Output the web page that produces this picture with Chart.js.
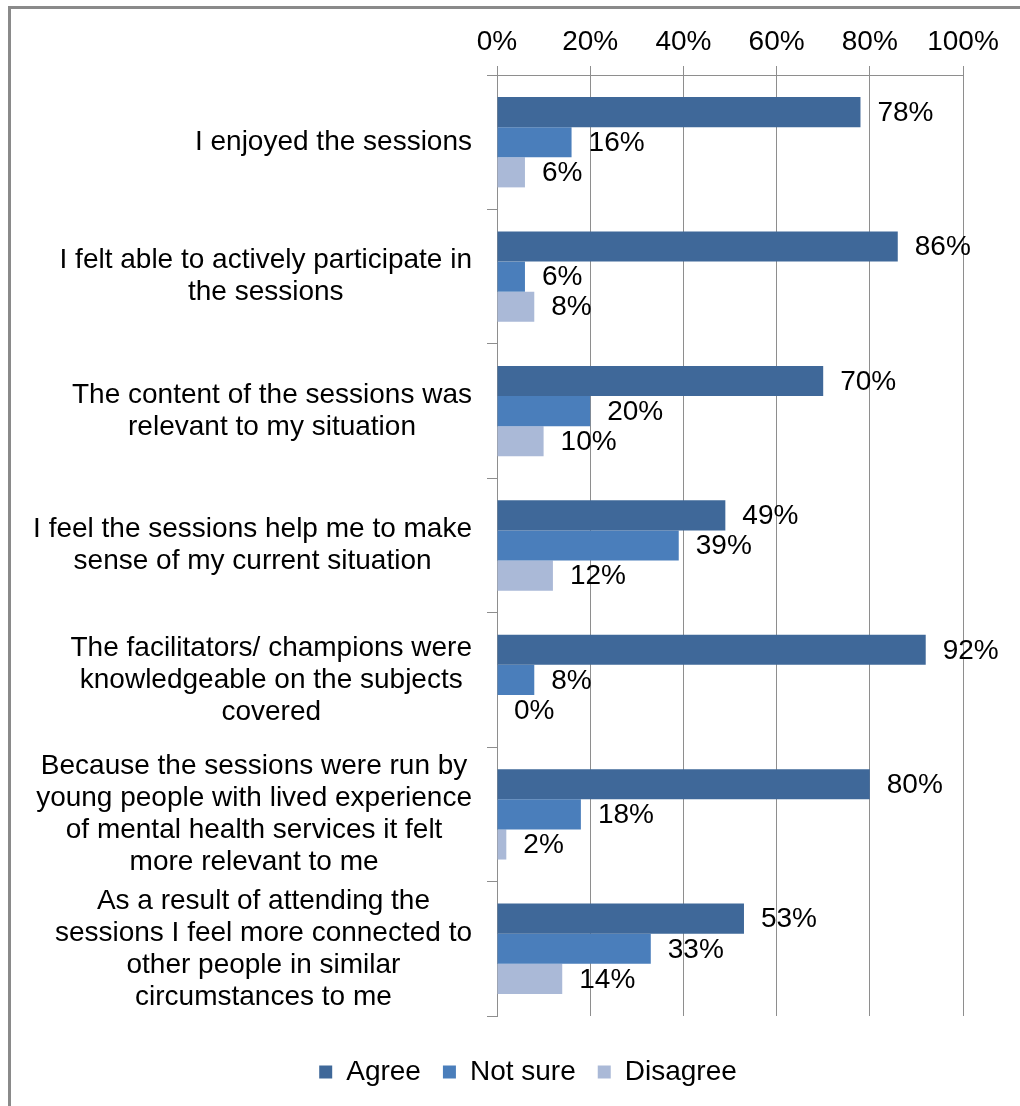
<!DOCTYPE html>
<html lang="en">
<head>
    <meta charset="UTF-8">
    <title>Session feedback</title>
    <script src="https://cdn.jsdelivr.net/npm/chart.js"></script>
    <style>
        html, body { margin: 0; padding: 0; background: #fff; overflow: hidden; }
        #frame { position: absolute; left: 8px; top: 6px; width: 1100px; height: 1200px; border: 3px solid #8a8a8a; }
        #chart { position: absolute; left: 0; top: 0; }
    </style>
</head>
<body>
    <div id="frame"></div>
    <canvas id="chart" width="1020" height="1106"></canvas>

    <script>
        const statements = [
            ["I enjoyed the sessions"],
            ["I felt able to actively participate in", "the sessions"],
            ["The content of the sessions was", "relevant to my situation"],
            ["I feel the sessions help me to make", "sense of my current situation"],
            ["The facilitators/ champions were", "knowledgeable on the subjects", "covered"],
            ["Because the sessions were run by", "young people with lived experience", "of mental health services it felt", "more relevant to me"],
            ["As a result of attending the", "sessions I feel more connected to", "other people in similar", "circumstances to me"]
        ];
        const agree    = [78, 86, 70, 49, 92, 80, 53];
        const notSure  = [16, 6, 20, 39, 8, 18, 33];
        const disagree = [6, 8, 10, 12, 0, 2, 14];
        const pctTicks = [0, 20, 40, 60, 80, 100];

        const FONT = '"Liberation Sans", Arial, sans-serif';
        const SIZE = 28;
        const GRID = '#8e8e8e';

        // category text: each block right-aligned against the axis, lines centred inside it
        const statementLabels = {
            id: 'statementLabels',
            afterDraw(chart) {
                const ctx = chart.ctx;
                const y = chart.scales.y;
                const right = y.right - 25;
                const lh = 32;
                ctx.save();
                ctx.font = SIZE + 'px ' + FONT;
                ctx.fillStyle = '#000';
                ctx.textAlign = 'center';
                ctx.textBaseline = 'middle';
                statements.forEach((lines, i) => {
                    const w = Math.max(...lines.map(l => ctx.measureText(l).width));
                    const cx = right - w / 2;
                    const cy = y.getPixelForTick(i);
                    lines.forEach((l, j) => {
                        ctx.fillText(l, cx, cy + (j - (lines.length - 1) / 2) * lh);
                    });
                });
                ctx.restore();
            }
        };

        // value labels just past the end of every bar
        const valueLabels = {
            id: 'valueLabels',
            afterDatasetsDraw(chart) {
                const ctx = chart.ctx;
                ctx.save();
                ctx.font = SIZE + 'px ' + FONT;
                ctx.fillStyle = '#000';
                ctx.textAlign = 'left';
                ctx.textBaseline = 'middle';
                chart.data.datasets.forEach((ds, di) => {
                    chart.getDatasetMeta(di).data.forEach((bar, i) => {
                        ctx.fillText(ds.data[i] + '%', bar.x + 17, bar.y + 1);
                    });
                });
                ctx.restore();
            }
        };

        new Chart(document.getElementById('chart'), {
            type: 'bar',
            data: {
                labels: statements,
                datasets: [
                    { label: 'Agree', data: agree, backgroundColor: '#3f6899' },
                    { label: 'Not sure', data: notSure, backgroundColor: '#4a7ebb' },
                    { label: 'Disagree', data: disagree, backgroundColor: '#aab9d7' }
                ]
            },
            options: {
                indexAxis: 'y',
                responsive: false,
                animation: false,
                categoryPercentage: 0.672,
                barPercentage: 1,
                layout: { padding: { left: 93, right: 57, top: 0, bottom: 10 } },
                scales: {
                    x: {
                        position: 'top',
                        min: 0,
                        max: 100,
                        afterBuildTicks(s) { s.ticks = pctTicks.map(v => ({ value: v })); },
                        afterFit(s) { s.height = 75; },
                        ticks: {
                            callback: v => v + '%',
                            color: '#000',
                            padding: 7,
                            font: { family: FONT, size: SIZE }
                        },
                        grid: { color: GRID, tickLength: 9 },
                        border: { color: GRID }
                    },
                    y: {
                        afterFit(s) { s.width = 404; },
                        ticks: { display: false },
                        grid: { drawOnChartArea: false, tickLength: 10, color: GRID, offset: true },
                        border: { color: GRID }
                    }
                },
                plugins: {
                    tooltip: { enabled: false },
                    legend: {
                        position: 'bottom',
                        title: { display: true, text: '', padding: 0, font: { size: 20, lineHeight: 1 } },
                        labels: {
                            boxWidth: 13,
                            boxHeight: 13,
                            padding: 22,
                            color: '#000',
                            font: { family: FONT, size: SIZE }
                        }
                    }
                }
            },
            plugins: [statementLabels, valueLabels]
        });
    </script>
</body>
</html>
